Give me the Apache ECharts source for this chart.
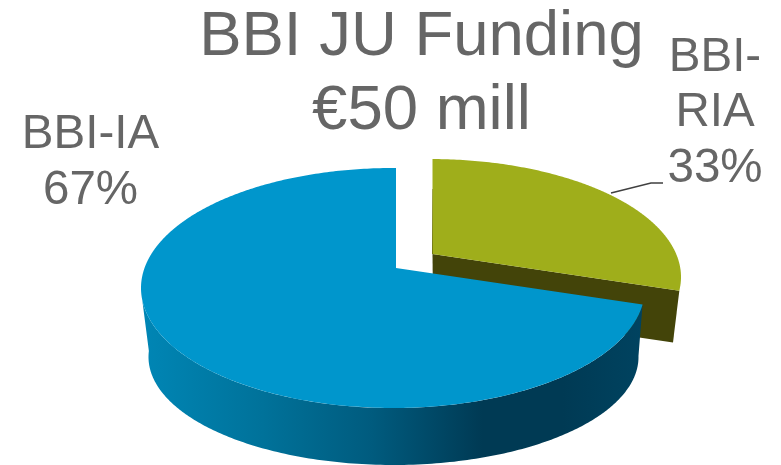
<!DOCTYPE html>
<html>
<head>
<meta charset="utf-8">
<style>
  html, body { margin: 0; padding: 0; background: #fff; }
  #chart { width: 781px; height: 465px; }
</style>
<script src="https://cdn.jsdelivr.net/npm/echarts@6/dist/echarts.min.js"></script>
</head>
<body>
<div id="chart"></div>
<script>
const categories = ['BBI-RIA', 'BBI-IA'];
const categoryLabels = ['BBI-\nRIA', 'BBI-IA'];
const values = [33, 67];
const titleLines = ['BBI JU Funding', '€50 mill'];

const TEXT_COLOR = '#666666';
const FONT = '"Liberation Sans", Arial, sans-serif';
// flattening of the pie's angles on screen
const SQUASH = 0.27;
// the front wall of the big slice stops at the left edge of the disc
const WALL_END = 245;

// one look per slice: top disc, bottom disc, apex of each, colours, label place
const sliceLook = [
  {
    top: { cx: 430, cy: 277, rx: 251, ry: 118, ax: 432.5, ay: 254 },
    bottom: { cx: 428, cy: 343, rx: 245, ry: 108, ax: 433, ay: 307 },
    face: '#9FAE1B',
    wall: '#434409',
    label: { x: 715, y: 30 }
  },
  {
    top: { cx: 393, cy: 288, rx: 252, ry: 120, ax: 396, ay: 268 },
    bottom: { cx: 393.5, cy: 357, rx: 245, ry: 108, ax: 396, ay: 320 },
    face: '#0096CC',
    label: { x: 90.5, y: 107.5 }
  }
];

const total = values.reduce((a, b) => a + b, 0);

// where the ray for a pie angle (degrees, clockwise from 12 o'clock) meets the disc edge
function edgePoint(disc, deg) {
  const rad = deg * Math.PI / 180;
  const dx = Math.sin(rad);
  const dy = -Math.cos(rad) * SQUASH;
  const ox = (disc.ax - disc.cx) / disc.rx;
  const oy = (disc.ay - disc.cy) / disc.ry;
  const px = dx / disc.rx;
  const py = dy / disc.ry;
  const a = px * px + py * py;
  const b = 2 * (ox * px + oy * py);
  const c = ox * ox + oy * oy - 1;
  const t = (-b + Math.sqrt(b * b - 4 * a * c)) / (2 * a);
  return [disc.ax + t * dx, disc.ay + t * dy];
}

function arc(disc, from, to) {
  const pts = [];
  const steps = Math.max(2, Math.ceil(Math.abs(to - from) * 2));
  for (let i = 0; i <= steps; i++) {
    pts.push(edgePoint(disc, from + (to - from) * i / steps));
  }
  return pts;
}

function renderSlice(params, api) {
  const i = params.dataIndex;
  const look = sliceLook[i];
  let start = 0;
  for (let k = 0; k < i; k++) start += values[k] / total * 360;
  const end = start + api.value(0) / total * 360;
  const children = [];

  if (i === 0) {
    // cut wall of the pulled-out slice, most of it hidden by the big one
    const endTop = edgePoint(look.top, end);
    const endBottom = edgePoint(look.bottom, end);
    children.push({
      type: 'polygon',
      shape: { points: [[look.top.ax, look.top.ay], endTop, endBottom, [look.bottom.ax, look.bottom.ay]] },
      style: { fill: look.wall }
    });
    children.push({
      type: 'line',
      shape: { x1: edgePoint(look.top, start)[0] + 0.5, y1: edgePoint(look.top, start)[1] + 30, x2: look.top.ax, y2: look.top.ay },
      style: { stroke: look.wall, lineWidth: 1 }
    });
    // leader line to the label
    children.push({
      type: 'polyline',
      shape: { points: [[611, 193], [651, 183], [663, 183]] },
      style: { stroke: '#404040', lineWidth: 1.5, fill: null }
    });
  } else {
    const wallTop = arc(look.top, start, WALL_END);
    const wallBottom = arc(look.bottom, start, WALL_END).reverse();
    children.push({
      type: 'polygon',
      shape: { points: wallTop.concat(wallBottom) },
      style: {
        fill: new echarts.graphic.LinearGradient(0, 0, 1, 0, [
          { offset: 0, color: '#0086B5' },
          { offset: 0.24, color: '#00729A' },
          { offset: 0.46, color: '#005B7E' },
          { offset: 0.68, color: '#003A54' },
          { offset: 0.84, color: '#003A54' },
          { offset: 1, color: '#004360' }
        ])
      }
    });
  }

  children.push({
    type: 'polygon',
    shape: { points: [[look.top.ax, look.top.ay]].concat(arc(look.top, start, end)) },
    style: { fill: look.face }
  });

  children.push({
    type: 'text',
    style: {
      text: categoryLabels[i] + '\n' + api.value(0) + '%',
      x: look.label.x,
      y: look.label.y,
      align: 'center',
      verticalAlign: 'top',
      fontFamily: FONT,
      fontSize: 47.5,
      lineHeight: 55.5,
      fill: TEXT_COLOR
    }
  });

  return { type: 'group', children };
}

const chart = echarts.init(document.getElementById('chart'));
chart.setOption({
  animation: false,
  title: {
    text: titleLines.join('\n'),
    left: 421.5,
    top: 0,
    textAlign: 'center',
    padding: 0,
    textStyle: {
      fontFamily: FONT,
      fontSize: 63.5,
      lineHeight: 74,
      fontWeight: 'normal',
      color: TEXT_COLOR
    }
  },
  series: [{
    type: 'custom',
    coordinateSystem: 'none',
    renderItem: renderSlice,
    data: values.map((v, i) => ({ name: categories[i], value: [v] }))
  }]
});
</script>
</body>
</html>
